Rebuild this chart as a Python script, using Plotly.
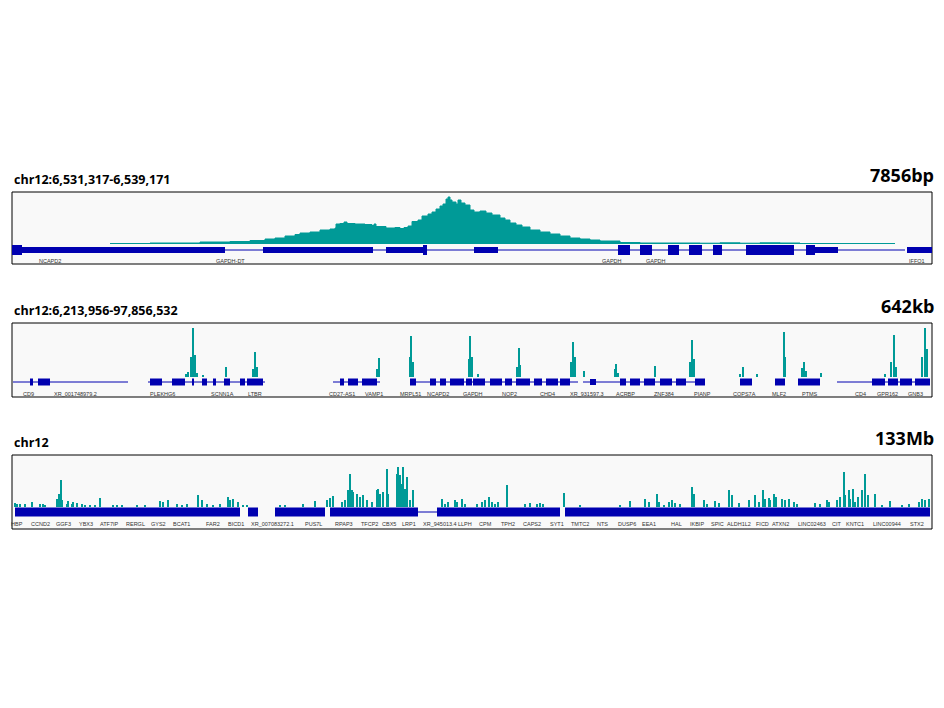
"""Genome browser style coverage tracks for chr12 at three zoom levels."""

import plotly.graph_objects as go

TEAL = "#009a97"
BLUE = "#0000b0"
OFF = 8  # page body margin
W, H = 944 - 2 * OFF, 708 - 2 * OFF
X0, X1 = 12, 932

# positions are expressed as screen columns across the track (12..932)
panels = [
    dict(
        title="chr12:6,531,317-6,539,171", span="7856bp",
        top=192, bottom=264, base=244, gene=250, label=261,
        kind="area",
        cov=[(110, 0.5), (150, 1), (200, 2), (230, 2.5), (250, 3.5), (265, 5), (275, 6),
             (285, 8), (295, 9.5), (300, 11), (310, 12), (320, 14), (330, 15), (335, 16),
             (336, 20), (340, 20.5), (344, 22), (347, 20.5), (355, 20), (365, 19.5),
             (372, 18.5), (374, 20), (376, 17.5), (386, 16), (395, 16.5), (400, 15.5),
             (404, 16.5), (408, 18), (412, 22.5), (418, 24), (422, 28), (428, 30),
             (432, 32), (436, 35), (440, 38), (443, 40), (446, 45), (448, 47), (450, 44),
             (452, 42), (456, 40), (458, 44), (461, 41), (465, 39), (470, 34), (474, 32),
             (480, 33), (486, 31), (492, 29), (500, 26), (505, 24), (510, 21), (516, 19),
             (522, 17), (530, 14), (540, 12), (550, 10), (560, 8), (570, 6), (580, 5),
             (590, 4), (600, 3), (620, 1.5), (640, 1), (700, 0.8), (720, 1.2), (740, 0.8),
             (760, 1.2), (780, 1), (800, 0.5), (895, 0.5)],
        lines=[(22, 386), (425, 905)],
        exons=[(12, 22, 5), (22, 225, 3), (263, 373, 3), (386, 425, 3), (423, 427, 5),
               (474, 498, 3), (618, 630, 5), (640, 652, 5), (668, 679, 5), (689, 702, 5),
               (713, 722, 5), (746, 794, 5), (806, 815, 5), (815, 838, 3), (907, 932, 3)],
        labels=[(50, "NCAPD2"), (230, "GAPDH-DT"), (612, "GAPDH"), (656, "GAPDH"),
                (917, "IFFO1")],
    ),
    dict(
        title="chr12:6,213,956-97,856,532", span="642kb",
        top=323, bottom=397, base=377, gene=382, label=394,
        kind="bar",
        cov=[(186, 3), (188, 5), (191, 20), (193, 49), (195, 22), (197, 4), (203, 2),
             (226, 10), (253, 8), (255, 25), (257, 10), (377, 8), (379, 19), (410, 20),
             (411, 41), (413, 15), (469, 18), (470, 41), (472, 20), (478, 3), (517, 10),
             (519, 29), (520, 12), (571, 15), (573, 35), (575, 20), (584, 6), (615, 8),
             (616, 13), (618, 4), (655, 11), (690, 15), (692, 37), (694, 18), (740, 3),
             (743, 10), (757, 3), (784, 45), (785, 20), (802, 9), (804, 15), (806, 6),
             (821, 4), (885, 3), (891, 15), (894, 42), (896, 10), (922, 20), (925, 49),
             (927, 28)],
        lines=[(13, 128), (148, 265), (333, 380), (410, 475), (476, 578), (583, 620),
               (620, 705), (837, 930)],
        exons=[(30, 33, 3.5), (38, 50, 3.5), (150, 162, 3.5), (172, 185, 3.5), (192, 194, 3.5),
               (202, 207, 3.5), (213, 216, 3.5), (224, 230, 3.5), (240, 245, 3.5), (247, 263, 3.5),
               (340, 344, 3.5), (348, 358, 3.5), (362, 377, 3.5), (410, 416, 3.5), (430, 436, 3.5),
               (440, 446, 3.5), (450, 464, 3.5), (466, 472, 3.5), (473, 485, 3.5), (490, 502, 3.5),
               (505, 512, 3.5), (516, 530, 3.5), (534, 542, 3.5), (546, 558, 3.5), (560, 570, 3.5),
               (590, 596, 3), (620, 626, 3.5), (630, 640, 3.5), (644, 655, 3.5), (660, 672, 3.5),
               (676, 686, 3.5), (695, 705, 3.5), (740, 752, 3.5), (775, 785, 3.5), (798, 820, 3.5),
               (872, 885, 3.5), (888, 898, 3.5), (900, 912, 3.5), (915, 930, 3.5)],
        labels=[(28, "CD9"), (75, "XR_001748979.2"), (162, "PLEKHG6"), (222, "SCNN1A"),
                (255, "LTBR"), (342, "CD27-AS1"), (374, "VAMP1"), (410, "MRPL51"),
                (438, "NCAPD2"), (473, "GAPDH"), (509, "NOP2"), (547, "CHD4"),
                (587, "XR_931597.3"), (625, "ACRBP"), (664, "ZNF384"), (702, "PIANP"),
                (744, "COPS7A"), (779, "MLF2"), (810, "PTMS"), (860, "CD4"),
                (887, "GPR162"), (915, "GNB3")],
    ),
    dict(
        title="chr12", span="133Mb",
        top=455, bottom=529, base=507, gene=512, label=524,
        kind="bar",
        cov=[(15, 4), (17, 3), (20, 3), (25, 3), (32, 5), (40, 3), (43, 3), (45, 2),
             (57, 8), (59, 13), (61, 27), (62, 7), (67, 3), (68, 6), (72, 3), (73, 5),
             (77, 4), (82, 3), (85, 2), (90, 2), (95, 2), (100, 9), (113, 2), (117, 2),
             (122, 2), (137, 2), (145, 2), (160, 6), (163, 5), (168, 7), (177, 3),
             (182, 2), (187, 3), (198, 12), (202, 7), (207, 3), (213, 2), (220, 3),
             (228, 10), (230, 7), (233, 8), (238, 5), (243, 2), (247, 2), (280, 2),
             (285, 2), (303, 3), (315, 6), (327, 7), (330, 9), (333, 11), (342, 5),
             (345, 7), (348, 17), (350, 33), (352, 17), (353, 15), (357, 13), (360, 10),
             (363, 12), (367, 7), (372, 5), (377, 17), (378, 18), (380, 13), (383, 15),
             (387, 38), (388, 13), (397, 33), (398, 40), (400, 32), (402, 23), (403, 40),
             (405, 18), (407, 30), (410, 7), (413, 17), (442, 8), (445, 3), (448, 5),
             (455, 7), (457, 5), (462, 8), (465, 3), (477, 3), (482, 5), (485, 7),
             (489, 10), (492, 5), (495, 3), (498, 5), (507, 22), (525, 3), (530, 4),
             (537, 3), (540, 4), (543, 3), (564, 14), (580, 2), (620, 2), (630, 6),
             (645, 8), (649, 5), (657, 13), (659, 5), (664, 2), (669, 5), (672, 7),
             (675, 4), (680, 3), (692, 20), (694, 13), (704, 7), (707, 3), (715, 6),
             (719, 4), (729, 17), (732, 12), (739, 4), (749, 7), (755, 12), (759, 5),
             (763, 17), (765, 8), (769, 9), (770, 7), (774, 13), (776, 10), (782, 8),
             (785, 7), (789, 8), (794, 5), (797, 3), (815, 4), (820, 3), (827, 7),
             (829, 5), (837, 7), (840, 10), (844, 35), (845, 12), (849, 17), (850, 8),
             (853, 18), (855, 5), (858, 10), (862, 17), (865, 33), (868, 12), (875, 13),
             (882, 2), (890, 6), (902, 2), (909, 3), (919, 5), (922, 8), (925, 7),
             (929, 8)],
        lines=[(418, 437)],
        exons=[(15, 240, 4.5), (248, 258, 4.5), (275, 325, 4.5), (330, 418, 4.5),
               (437, 560, 4.5), (565, 930, 4.5)],
        labels=[(17, "HBP"), (40, "CCND2"), (63, "GGF3"), (86, "YBX3"), (109, "ATF7IP"),
                (135, "RERGL"), (158, "GYS2"), (181, "BCAT1"), (213, "FAR2"),
                (236, "BICD1"), (272, "XR_007083272.1"), (313, "PUS7L"), (344, "RPAP3"),
                (369, "TFCP2"), (389, "CBX5"), (409, "LRP1"), (440, "XR_945013.4"),
                (465, "LLPH"), (485, "CPM"), (508, "TPH2"), (532, "CAPS2"), (557, "SYT1"),
                (580, "TMTC2"), (602, "NTS"), (627, "DUSP6"), (649, "EEA1"), (676, "HAL"),
                (697, "IKBIP"), (717, "SPIC"), (739, "ALDH1L2"), (762, "FICD"),
                (780, "ATXN2"), (812, "LINC02463"), (837, "CIT"), (855, "KNTC1"),
                (887, "LINC00944"), (917, "STX2")],
    ),
]


def px(v):
    return (v - OFF) / W


def py(v):
    return 1 - (v - OFF) / H


fig = go.Figure()
shapes = []
annotations = []

for i, p in enumerate(panels, start=1):
    xa = "x" if i == 1 else f"x{i}"
    ya = "y" if i == 1 else f"y{i}"
    ymax = p["base"] - p["top"]
    ymin = p["base"] - p["bottom"]
    g = p["base"] - p["gene"]
    lab = p["base"] - p["label"]

    xs = [c[0] for c in p["cov"]]
    hs = [c[1] for c in p["cov"]]
    if p["kind"] == "area":
        fig.add_trace(go.Scatter(x=xs, y=hs, mode="lines", fill="tozeroy",
                                 line=dict(color=TEAL, width=1, shape="hv"), fillcolor=TEAL,
                                 xaxis=xa, yaxis=ya, showlegend=False, hoverinfo="skip"))
    else:
        fig.add_trace(go.Bar(x=xs, y=hs, width=1.6, marker=dict(color=TEAL, line_width=0),
                             xaxis=xa, yaxis=ya, showlegend=False, hoverinfo="skip"))

    for a, b in p["lines"]:
        shapes.append(dict(type="line", xref=xa, yref=ya, x0=a, x1=b, y0=g, y1=g,
                           line=dict(color=BLUE, width=1), layer="above"))
    for a, b, hh in p["exons"]:
        shapes.append(dict(type="rect", xref=xa, yref=ya, x0=a, x1=b, y0=g - hh, y1=g + hh,
                           fillcolor=BLUE, line_width=0, layer="above"))
    for x, t in p["labels"]:
        annotations.append(dict(x=x, y=lab, xref=xa, yref=ya, text=t, showarrow=False,
                                font=dict(size=5.5, color="#333333", family="Liberation Sans")))

    annotations.append(dict(x=px(X0), y=py(p["top"] - 2), xref="paper", yref="paper",
                            text=f"<b>{p['title']}</b>", showarrow=False, xanchor="left",
                            yanchor="bottom", font=dict(size=12.5, color="black", family="Open Sans")))
    annotations.append(dict(x=px(936), y=py(p["top"] - 3), xref="paper", yref="paper",
                            text=f"<b>{p['span']}</b>", showarrow=False, xanchor="right",
                            yanchor="bottom", font=dict(size=18, color="black", family="Open Sans")))
    shapes.append(dict(type="rect", xref="paper", yref="paper", x0=px(X0), x1=px(X1),
                       y0=py(p["bottom"]), y1=py(p["top"]),
                       fillcolor="#f9f9f9", line=dict(color="black", width=1), layer="below"))

    axis_x = dict(domain=[px(X0), px(X1)], range=[X0, X1], visible=False, fixedrange=True)
    axis_y = dict(domain=[py(p["bottom"]), py(p["top"])], range=[ymin, ymax],
                  visible=False, fixedrange=True)
    if i > 1:
        axis_x["anchor"] = ya
        axis_y["anchor"] = xa
    fig.update_layout({f"xaxis{'' if i == 1 else i}": axis_x,
                       f"yaxis{'' if i == 1 else i}": axis_y})

fig.update_layout(
    width=W, height=H, margin=dict(l=0, r=0, t=0, b=0),
    paper_bgcolor="white", plot_bgcolor="rgba(0,0,0,0)",
    shapes=shapes, annotations=annotations, bargap=0,
)

fig.write_html("out.html")
